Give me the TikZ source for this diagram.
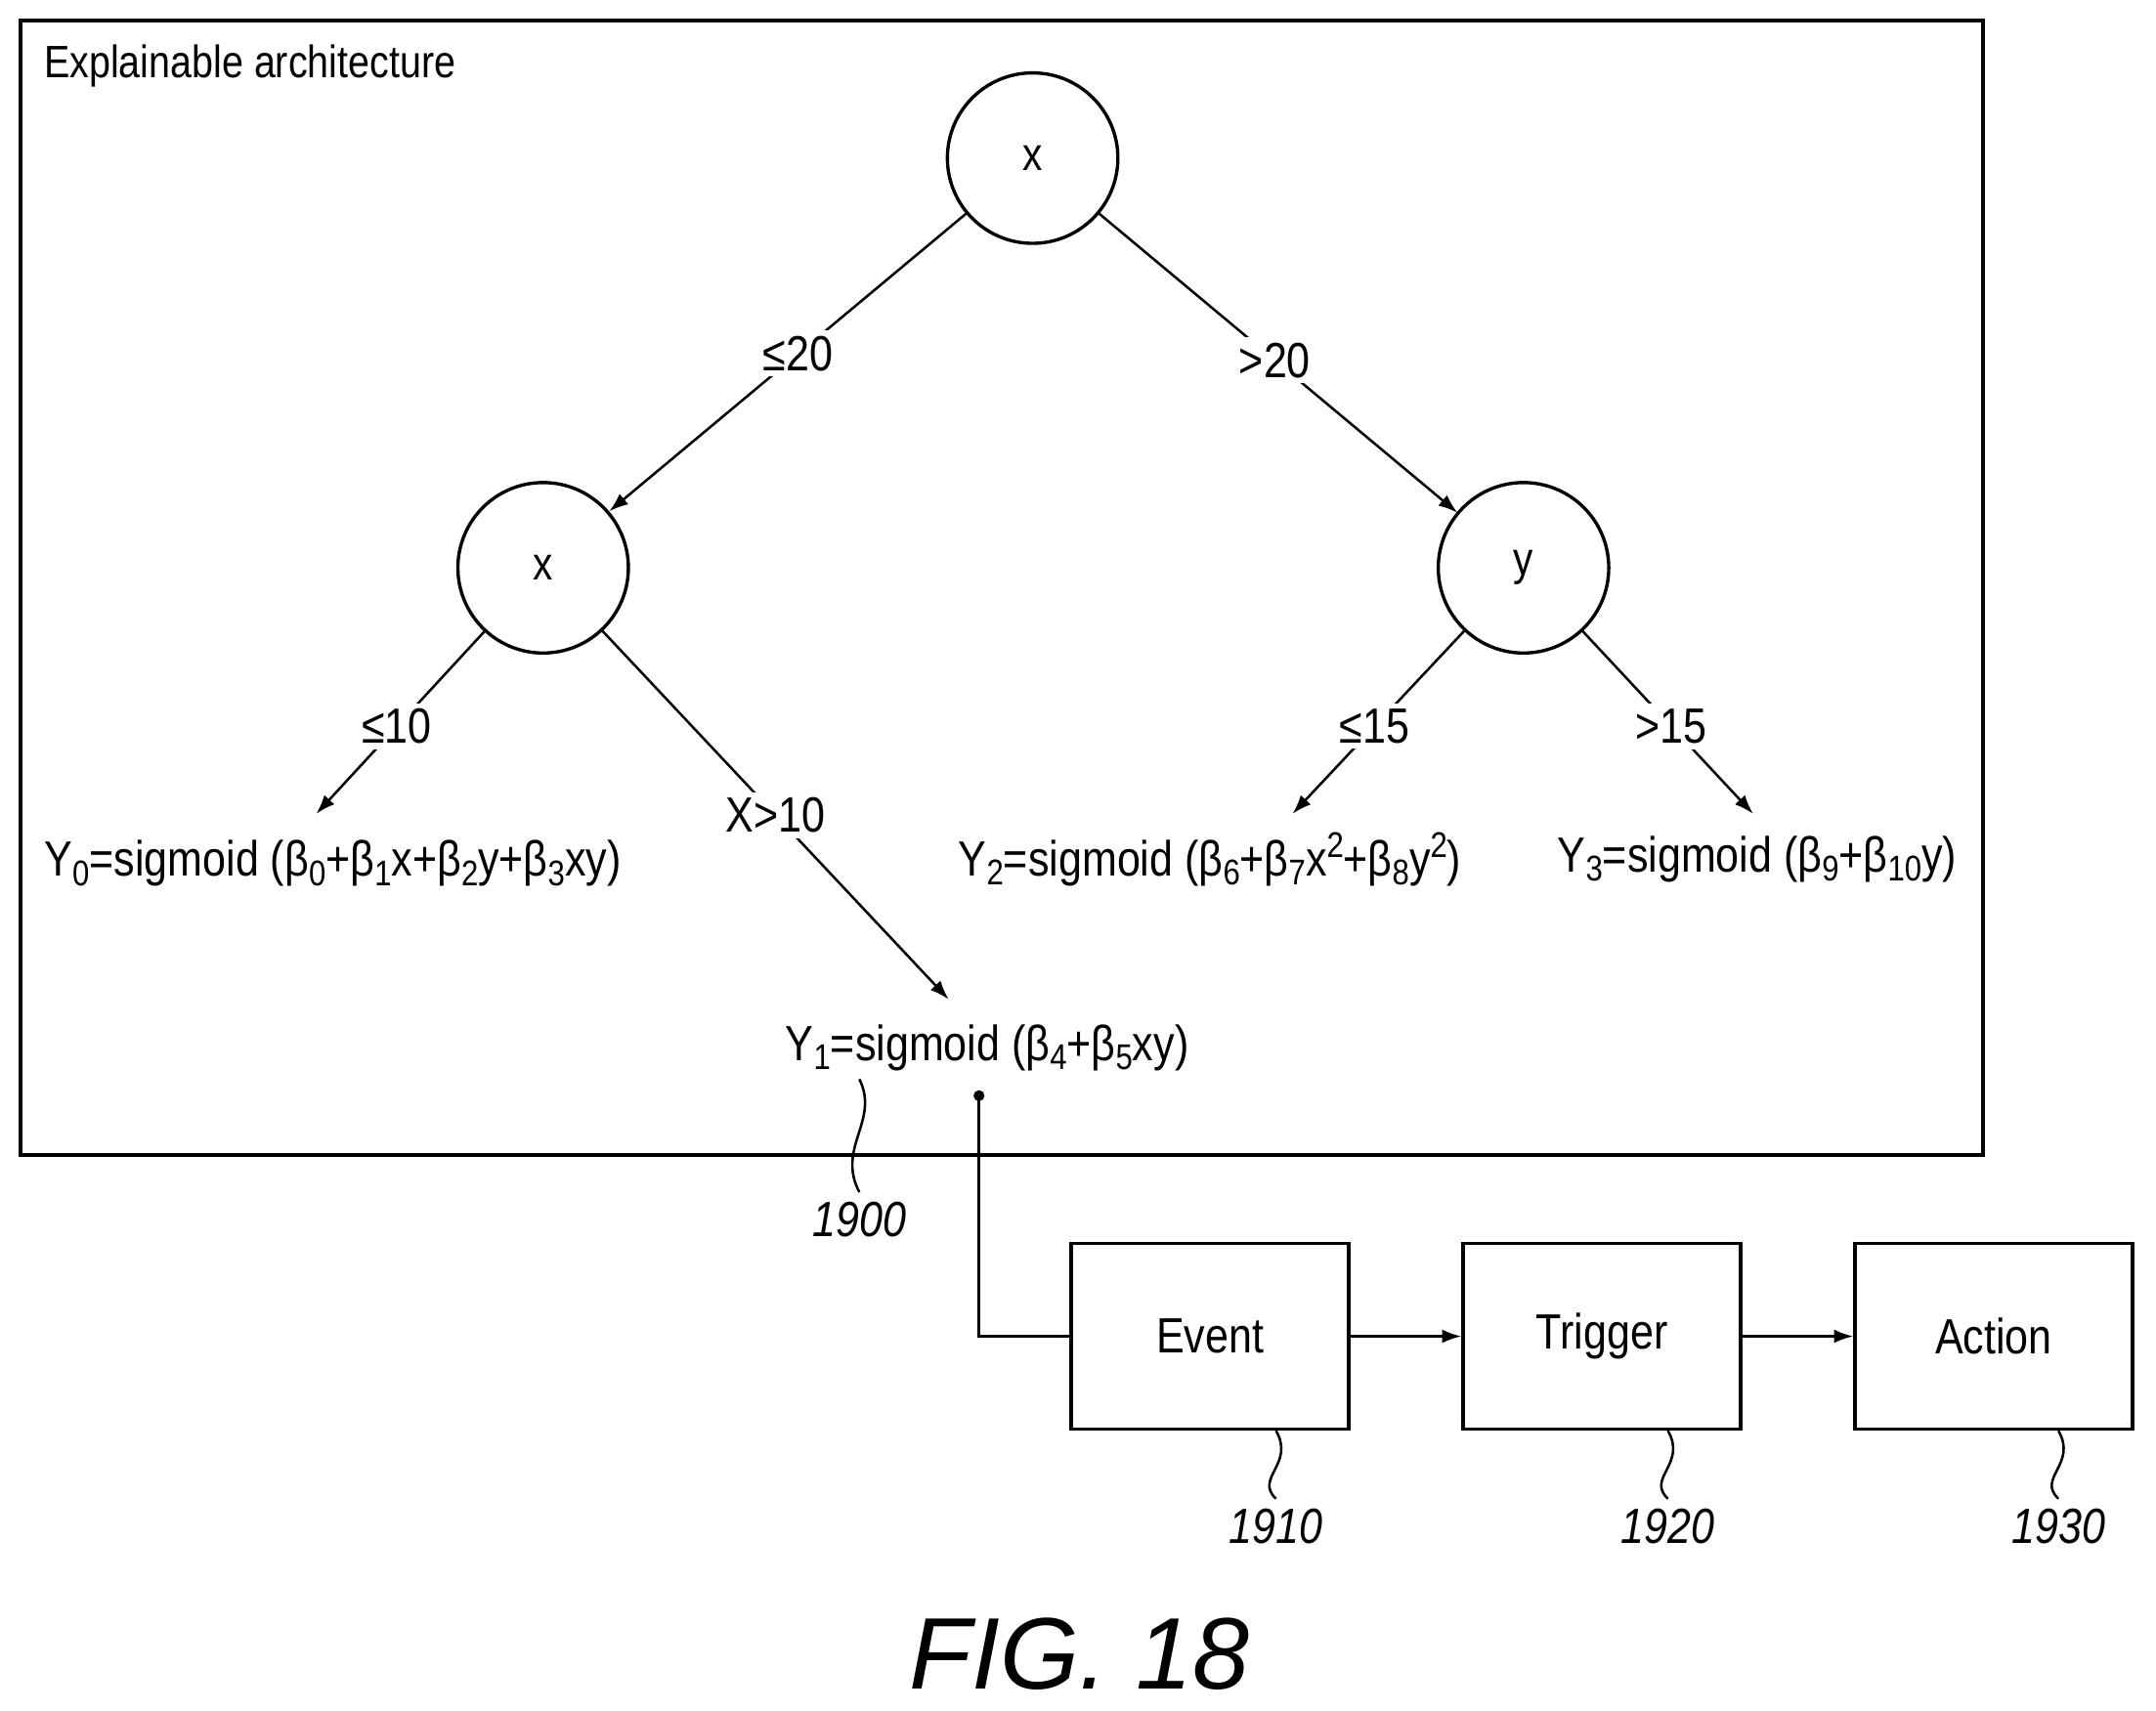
\documentclass[tikz,border=0pt]{standalone}
\usepackage{fontspec}
\setmainfont[FakeStretch=0.85]{Liberation Sans}
\newfontfamily\figfont{Liberation Sans}
\usetikzlibrary{arrows.meta}
\newcommand{\sbs}[1]{\raisebox{-0.35ex}{\fontsize{13}{14}\selectfont #1}}
\newcommand{\sps}[1]{\raisebox{0.7ex}{\fontsize{13}{14}\selectfont #1}}
\begin{document}
\begin{tikzpicture}[x=0.5pt,y=-0.5pt,
  circ/.style={draw,circle,line width=1.2pt,minimum size=62pt,inner sep=0pt,font=\fontsize{17}{20}\selectfont},
  lab/.style={font=\fontsize{18}{20}\selectfont,inner sep=1pt},
  lbl/.style={fill=white,font=\fontsize{18}{20}\selectfont,inner sep=2pt},
  box/.style={draw,line width=1.2pt,minimum width=101pt,minimum height=67.5pt,font=\fontsize{18}{20}\selectfont},
  arr/.style={line width=0.9pt,-{Latex[length=7pt,width=5pt]}},
  ref/.style={font=\fontsize{18}{20}\selectfont\itshape},
  sq/.style={line width=0.9pt}]
\useasboundingbox (0,0) rectangle (1568,1244);
\draw[line width=1.5pt] (15,15) rectangle (1442,840);
\node[anchor=west,font=\fontsize{16.5}{18}\selectfont] (title) at (25,48) {Explainable architecture};
\node[circ] (r) at (751,115) {x};
\node[circ] (l) at (395,413) {x};
\node[circ] (y) at (1108,413) {y};
\node[lab] (y0) at (242,628) {Y\sbs{0}=sigmoid (β\sbs{0}+β\sbs{1}x+β\sbs{2}y+β\sbs{3}xy)};
\node[lab] (y1) at (718,762) {Y\sbs{1}=sigmoid (β\sbs{4}+β\sbs{5}xy)};
\node[lab] (y2) at (880,625) {Y\sbs{2}=sigmoid (β\sbs{6}+β\sbs{7}x\sps{2}+β\sbs{8}y\sps{2})};
\node[lab] (y3) at (1278,625) {Y\sbs{3}=sigmoid (β\sbs{9}+β\sbs{10}y)};
\coordinate (t0) at (230,592); \coordinate (t1) at (690,727);
\coordinate (t2) at (940,592); \coordinate (t3) at (1275,592);
\coordinate (tl) at (443,372); \coordinate (tr) at (1060,373);
\draw[arr] (r) -- node[lbl,pos=0.47]{≤20} (tl);
\draw[arr] (r) -- node[lbl,pos=0.49]{>20} (tr);
\draw[arr] (l) -- node[lbl,pos=0.52]{≤10} (t0);
\draw[arr] (l) -- node[lbl,pos=0.5]{X>10} (t1);
\draw[arr] (y) -- node[lbl,pos=0.52]{≤15} (t2);
\draw[arr] (y) -- node[lbl,pos=0.52]{>15} (t3);
\node[box] (ev) at (880,972) {Event};
\node[box] (tr2) at (1165,972) {Trigger};
\node[box] (ac) at (1450,972) {Action};
\coordinate (dot) at (712,797);
\fill (dot) circle (4);
\draw[line width=0.9pt] (dot) |- (ev.west);
\draw[arr] (ev) -- (tr2);
\draw[arr] (tr2) -- (ac);
\node[ref] (n1900) at (625,887) {1900};
\node[ref] (n1910) at (928,1110) {1910};
\node[ref] (n1920) at (1213,1110) {1920};
\node[ref] (n1930) at (1497,1110) {1930};
\draw[sq] (625,785) .. controls (640,815) and (608,835) .. (n1900.north);
\draw[sq] (ev.south -| 928,0) .. controls (942,1065) and (912,1075) .. (n1910.north);
\draw[sq] (tr2.south -| 1213,0) .. controls (1227,1065) and (1197,1075) .. (n1920.north);
\draw[sq] (ac.south -| 1497,0) .. controls (1511,1065) and (1481,1075) .. (n1930.north);
\node[font=\figfont\fontsize{37}{40}\selectfont\itshape] (fig) at (785,1203) {FIG. 18};
\end{tikzpicture}
\end{document}
